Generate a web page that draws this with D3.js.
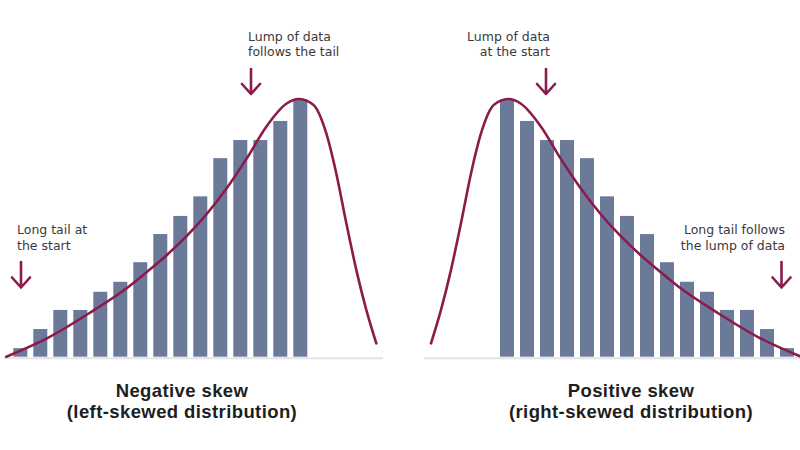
<!DOCTYPE html>
<html>
<head>
<meta charset="utf-8">
<script src="https://cdn.jsdelivr.net/npm/d3@7"></script>
<style>
  html, body { margin: 0; padding: 0; background: #ffffff; }
  svg { display: block; }
</style>
</head>
<body>
<svg id="chart" width="800" height="450"></svg>
<script>
// ---------- DATA ----------
const bins = d3.range(15).map(i => "b" + i);
const negativeCounts = [0.9, 2.9, 4.9, 4.9, 6.8, 7.85, 9.9, 12.85, 14.75, 16.8, 20.8, 22.7, 22.7, 24.7, 27];
const positiveCounts = [27, 24.7, 22.7, 22.7, 20.8, 16.8, 14.75, 12.85, 9.9, 7.85, 6.8, 4.9, 4.9, 2.9, 0.9];

// curve points (x in bin units, y in count units)
const negativeCurveX = [-0.2, 1.9, 3.9, 5.9, 6.9, 7.8, 8.8, 9.8, 10.8, 11.8, 12.8, 13.8, 14.4, 15.15, 15.8, 16.3, 16.8, 17.3, 17.8, 18.3];
const negativeCurveY = [0, 2.0, 4.5, 7.3, 9.0, 10.6, 12.6, 14.9, 17.6, 20.7, 24.1, 26.5, 27, 26.4, 23.4, 19.2, 14.0, 9.1, 4.9, 1.4];
const positiveCurveX = [15.2, 13.1, 11.1, 9.1, 8.1, 7.2, 6.2, 5.2, 4.2, 3.2, 2.2, 1.2, 0.6, -0.15, -0.8, -1.3, -1.8, -2.3, -2.8, -3.3];
const positiveCurveY = [0, 2.0, 4.5, 7.3, 9.0, 10.6, 12.6, 14.9, 17.6, 20.7, 24.1, 26.5, 27, 26.4, 23.4, 19.2, 14.0, 9.1, 4.9, 1.4];

const titles = {
  left: ["Negative skew", "(left-skewed distribution)"],
  right: ["Positive skew", "(right-skewed distribution)"]
};
const notes = {
  leftTop: ["Lump of data", "follows the tail"],
  leftBottom: ["Long tail at", "the start"],
  rightTop: ["Lump of data", "at the start"],
  rightBottom: ["Long tail follows", "the lump of data"]
};

// ---------- STYLE ----------
const barColor = "#6b7a99";
const curveColor = "#8c1a4b";
const textColor = "#3a3a3a";
const baseColor = "#e3e3e3";

const svg = d3.select("#chart");

function panel(opts) {
  const g = svg.append("g");
  const xb = d3.scaleBand().domain(bins).range(opts.range).paddingInner(0.3).paddingOuter(0.15);
  const xl = d3.scaleLinear().domain([0, 15]).range(opts.range);
  const y = d3.scaleLinear().domain([0, 27]).range([356.7, 99]);

  g.append("line")
    .attr("x1", opts.base[0]).attr("x2", opts.base[1])
    .attr("y1", 358.3).attr("y2", 358.3)
    .attr("stroke", baseColor).attr("stroke-width", 2);

  g.selectAll("rect").data(opts.counts).join("rect")
    .attr("x", (d, i) => xb(bins[i]))
    .attr("width", xb.bandwidth())
    .attr("y", d => y(d))
    .attr("height", d => y(0) - y(d))
    .attr("fill", barColor);

  const pts = opts.cx.map((v, i) => [v, opts.cy[i]]).sort((a, b) => a[0] - b[0]);
  const line = d3.line().x(d => xl(d[0])).y(d => y(d[1])).curve(d3.curveMonotoneX);
  g.append("path").attr("d", line(pts))
    .attr("fill", "none").attr("stroke", curveColor)
    .attr("stroke-width", 2.6).attr("stroke-linecap", "round");

  opts.title.forEach((s, i) => {
    g.append("text")
      .attr("x", opts.titleX).attr("y", 397 + i * 21)
      .attr("text-anchor", "middle")
      .attr("font-family", "'Liberation Sans', Arial, sans-serif")
      .attr("font-weight", 700).attr("font-size", 18.5)
      .attr("letter-spacing", 0.4)
      .attr("fill", "#1e1e1e")
      .text(s);
  });
}

function note(lines, x, y, anchor) {
  lines.forEach((s, i) => {
    svg.append("text")
      .attr("x", x).attr("y", y + i * 15.5)
      .attr("text-anchor", anchor)
      .attr("font-family", "'DejaVu Sans', sans-serif")
      .attr("font-size", 12.5)
      .attr("fill", textColor)
      .text(s);
  });
}

function arrow(x, y0, y1) {
  const p = d3.path();
  p.moveTo(x, y0); p.lineTo(x, y1);
  p.moveTo(x - 9, y1 - 10); p.lineTo(x, y1); p.lineTo(x + 9, y1 - 10);
  svg.append("path").attr("d", p.toString())
    .attr("fill", "none").attr("stroke", curveColor)
    .attr("stroke-width", 2.6).attr("stroke-linecap", "round").attr("stroke-linejoin", "round");
}

panel({ range: [10.3, 310.3], base: [4, 383], counts: negativeCounts, cx: negativeCurveX, cy: negativeCurveY, title: titles.left, titleX: 182 });
panel({ range: [497, 797], base: [424, 800], counts: positiveCounts, cx: positiveCurveX, cy: positiveCurveY, title: titles.right, titleX: 631 });

note(notes.leftTop, 248, 40.5, "start");
note(notes.leftBottom, 17, 234, "start");
note(notes.rightTop, 550, 40.5, "end");
note(notes.rightBottom, 785, 234, "end");

arrow(251, 69, 94);
arrow(21, 262, 287.5);
arrow(546, 69, 94);
arrow(781.5, 262, 287.5);
</script>
</body>
</html>
